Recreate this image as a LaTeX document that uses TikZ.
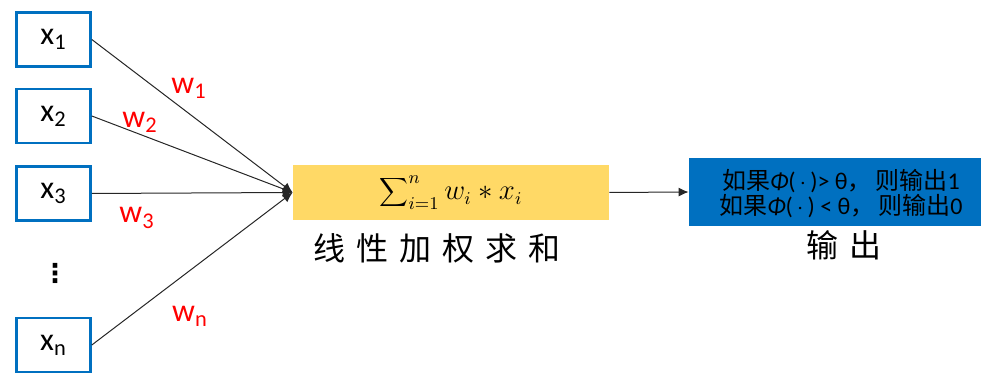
\documentclass[tikz,border=0pt]{standalone}
\usepackage{fontspec}
\setmainfont{Carlito}
\newfontfamily\cjk{Noto Sans CJK SC}
\newfontfamily\cjkwide[LetterSpace=35]{Noto Sans CJK SC}
\newfontfamily\symfont{DejaVu Sans}
\usetikzlibrary{arrows.meta}
\definecolor{boxblue}{HTML}{0070C0}
\definecolor{sumyellow}{HTML}{FFD966}

\begin{document}
\begin{tikzpicture}[x=0.5pt, y=-0.5pt,
    inbox/.style={draw=boxblue, line width=1.3pt, minimum width=37pt, minimum height=27pt,
        inner sep=0pt, font=\fontsize{16}{18}\selectfont},
    wlabel/.style={text=red, font=\fontsize{16}{18}\selectfont},
    link/.style={black!85, line width=0.5pt, -{Latex[length=5pt,width=4.5pt]}}]
    \useasboundingbox (0,0) rectangle (981,373);

    % inputs
    \node[inbox] (x1) at (53.5,39.5) {x\textsubscript{1}};
    \node[inbox] (x2) at (53.5,116) {x\textsubscript{2}};
    \node[inbox] (x3) at (53.5,193.5) {x\textsubscript{3}};
    \node[font=\fontsize{13}{15}\symfont\bfseries] (dots) at (55,273) {⋮};
    \node[inbox] (xn) at (53.5,345) {x\textsubscript{n}};

    % weighted sum
    \node[fill=sumyellow, minimum width=158pt, minimum height=27.5pt, inner sep=0pt] (sum) at (451,192.5)
        {\fontsize{13.5}{15}\selectfont$\displaystyle\sum\nolimits_{i=1}^{n} w_i * x_i$};
    \node[font=\fontsize{16}{18}\selectfont\cjkwide] (sumlabel) at (437,248) {线性加权求和};

    \draw[link] (x1.east) -- (sum.west);
    \draw[link] (x2.east) -- (sum.west);
    \draw[link] (x3.east) -- (sum.west);
    \draw[link] (xn.east) -- (sum.west);

    \node[wlabel] (w1) at (189,88) {w\textsubscript{1}};
    \node[wlabel] (w2) at (140,122) {w\textsubscript{2}};
    \node[wlabel] (w3) at (137,218) {w\textsubscript{3}};
    \node[wlabel] (wn) at (190,316) {w\textsubscript{n}};

    % output
    \node[fill=boxblue, minimum width=146pt, minimum height=34pt, inner sep=0pt] (out) at (835,192) {};
    \node[align=center, font=\fontsize{12}{12.5}\selectfont] (rule) at (841,194)
        {{\cjk 如果}{\itshape Φ}(\,$\cdot$\,)> θ{\cjk ，}\,{\cjk 则输出}1\\
         {\cjk 如果}{\itshape Φ}(\,$\cdot$\,) < θ{\cjk ，}\,{\cjk 则输出}0};
    \node[font=\fontsize{16}{18}\selectfont\cjkwide] (outlabel) at (844,245) {输出};

    \draw[link] (sum.east) -- (out.west);
\end{tikzpicture}
\end{document}
